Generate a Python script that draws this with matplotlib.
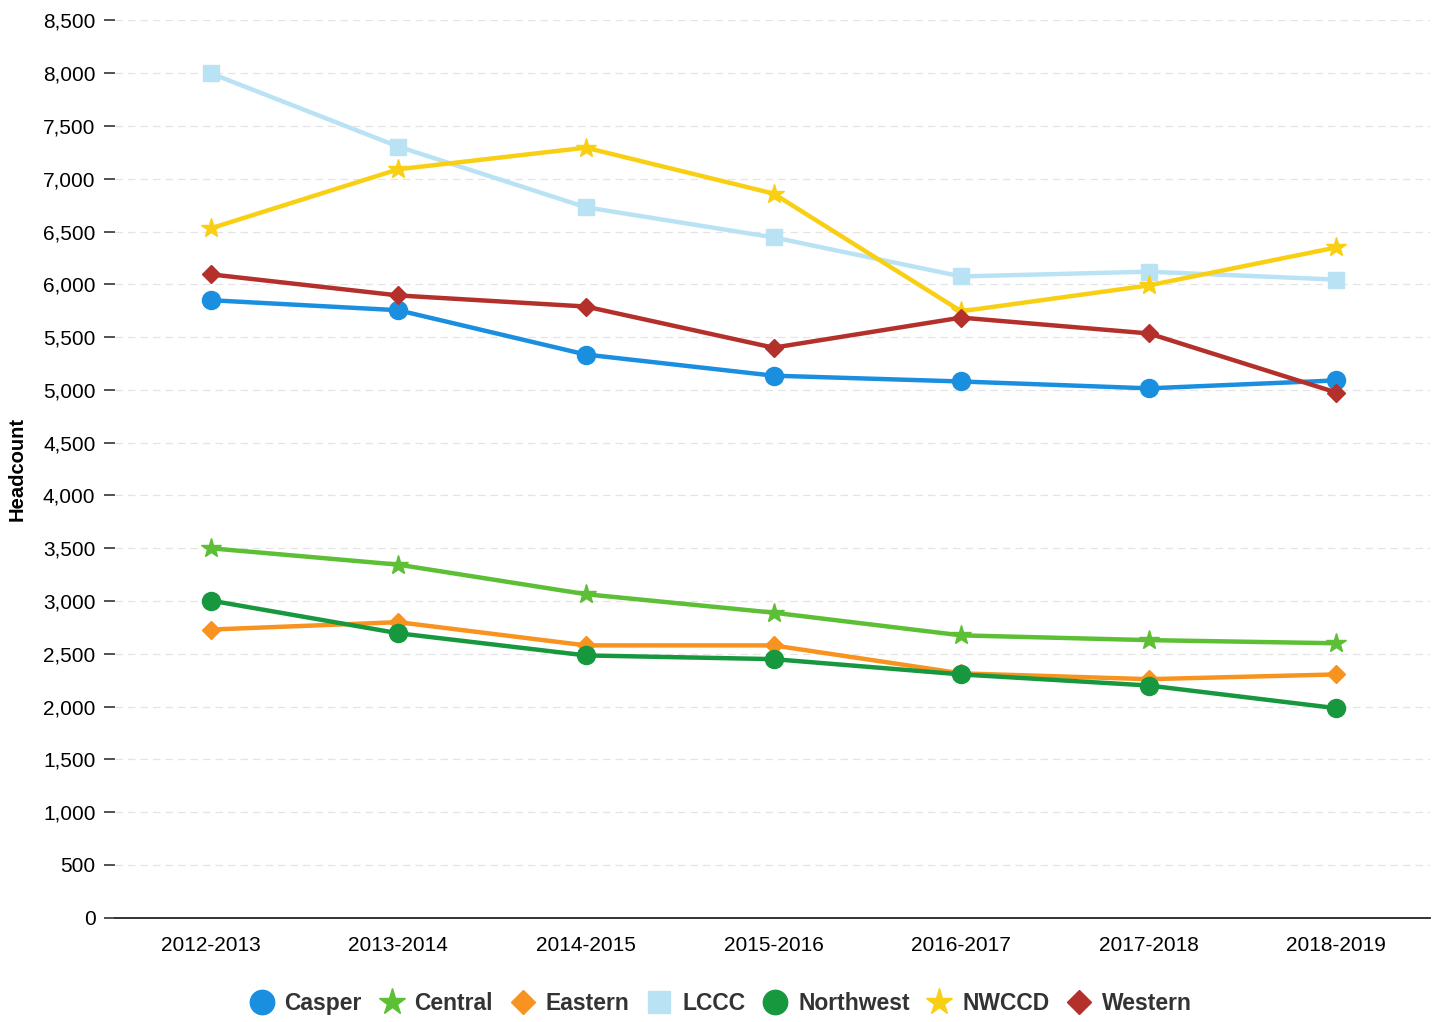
import numpy as np
import matplotlib.pyplot as plt
from matplotlib.ticker import FuncFormatter

plt.rcParams['font.family'] = ['Liberation Sans', 'DejaVu Sans']

# academic years on the x axis
years = ['2012-2013', '2013-2014', '2014-2015', '2015-2016',
         '2016-2017', '2017-2018', '2018-2019']

# headcount per college
casper = [5850, 5755, 5335, 5135, 5080, 5015, 5090]
central = [3500, 3345, 3065, 2890, 2675, 2630, 2600]
eastern = [2730, 2800, 2580, 2580, 2315, 2260, 2305]
lccc = [8000, 7305, 6730, 6445, 6075, 6120, 6045]
northwest = [3005, 2695, 2485, 2450, 2305, 2200, 1985]
nwccd = [6530, 7090, 7295, 6860, 5745, 5990, 6350]
western = [6095, 5895, 5790, 5400, 5685, 5535, 4975]

series = [
	('Casper', casper, '#1a8fe0', 'o', 13),
	('Central', central, '#5cbf35', '*', 15),
	('Eastern', eastern, '#f7931e', 'D', 9),
	('LCCC', lccc, '#b9e3f4', 's', 12),
	('Northwest', northwest, '#17983f', 'o', 13),
	('NWCCD', nwccd, '#f8cf13', '*', 15),
	('Western', western, '#b3302b', 'D', 9),
]

fig = plt.figure(figsize=(14.36, 10.22), dpi=100)
ax = fig.add_axes([0.080, 0.102, 0.916, 0.878])

x = np.arange(len(years))
for name, vals, color, marker, ms in series:
	ax.plot(x, vals, color=color, linewidth=3.2, marker=marker,
			markersize=ms, markerfacecolor=color, markeredgecolor=color,
			label=name, zorder=3)

ax.set_xlim(-0.51, 6.5)
ax.set_ylim(0, 8500)
ax.set_yticks(np.arange(0, 8501, 500))
ax.yaxis.set_major_formatter(FuncFormatter(lambda v, p: f'{int(v):,}'))
ax.set_xticks(x)
ax.set_xticklabels(years)

# faint horizontal gridlines
ax.grid(axis='y', color='#e4e4e4', linewidth=0.9, linestyle=(0, (6, 4)))
ax.set_axisbelow(True)

for side in ['top', 'right', 'left']:
	ax.spines[side].set_visible(False)
ax.spines['bottom'].set_color('#222222')
ax.spines['bottom'].set_linewidth(1.3)

ax.tick_params(axis='y', length=8, width=1.2, color='#333333',
			   labelsize=15, pad=6)
ax.tick_params(axis='x', length=0, labelsize=15, pad=13)

ax.set_ylabel('Headcount', fontsize=14.5, fontweight='bold', labelpad=12)

handles, labels = ax.get_legend_handles_labels()
leg = fig.legend(handles, labels, loc='lower center', ncol=7,
				 bbox_to_anchor=(0.503, -0.013), frameon=False,
				 fontsize=16.5, handlelength=0.8, handletextpad=0.6,
				 columnspacing=0.9, markerscale=1.35)
for line in leg.get_lines():
	line.set_linestyle('none')
for txt in leg.get_texts():
	txt.set_fontweight('bold')
	txt.set_color('#333333')

fig.savefig('out.png', dpi=100)
